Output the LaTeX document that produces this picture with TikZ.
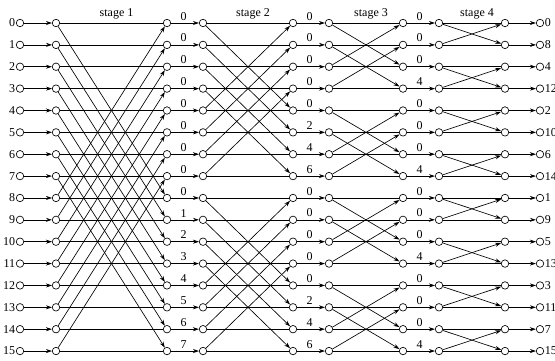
\documentclass[tikz,border=0pt]{standalone}
\usepackage{fontspec}
\setmainfont{Liberation Serif}
\usepackage{tikz}
\usetikzlibrary{arrows.meta, positioning, calc}

\begin{document}
\begin{tikzpicture}[x=1pt, y=-1pt, >={Stealth[length=6pt, width=4pt]},
    font=\fontsize{12}{14}\selectfont, line width=0.65pt,
    dot/.style={circle, draw, fill=white, inner sep=0pt, minimum size=7.5pt},
    tw/.style={above, inner sep=2.5pt}]
    \useasboundingbox (0, 0) rectangle (555, 360);

    % Các cột nút tròn của sơ đồ bướm
    \foreach \c/\x in {0/20, 1/56, 2/167, 3/203, 4/293, 5/329, 6/403, 7/439, 8/505, 9/540}
        \foreach \r in {0,...,15}
            \node[dot] (n\c-\r) at (\x, {23+21.87*\r}) {};

    % Nhãn đầu vào và đầu ra (thứ tự đảo bit)
    \foreach \r in {0,...,15}
        \node[left, inner sep=0.5pt] (in\r) at (n0-\r.west) {\r};
    \foreach \r/\b in {0/0, 1/8, 2/4, 3/12, 4/2, 5/10, 6/6, 7/14, 8/1, 9/9, 10/5, 11/13, 12/3, 13/11, 14/7, 15/15}
        \node[right, inner sep=0.5pt] (out\r) at (n9-\r.east) {\b};

    % Mũi tên nối giữa các tầng
    \foreach \a/\b in {0/1, 2/3, 4/5, 6/7, 8/9}
        \foreach \r in {0,...,15}
            \draw[->] (n\a-\r) -- (n\b-\r);

    % Các phép bướm của bốn tầng
    \foreach \a/\b/\d in {1/2/8, 3/4/4, 5/6/2, 7/8/1}
        \foreach \r in {0,...,15} {
            \pgfmathtruncatemacro\p{\r+\d*(1-2*mod(floor(\r/\d),2))}
            \draw (n\a-\r) -- (n\b-\r);
            \draw[->] (n\a-\r) -- (n\b-\p);
        }

    % Tên các tầng
    \foreach \a/\b/\s in {1/2/1, 3/4/2, 5/6/3, 7/8/4}
        \path (n\a-0) -- (n\b-0) node[midway, above, xshift=5pt] (st\s) {stage \s};

    % Hệ số xoay (twiddle) trên mỗi tầng
    \foreach \r/\k in {0/0, 1/0, 2/0, 3/0, 4/0, 5/0, 6/0, 7/0, 8/0, 9/1, 10/2, 11/3, 12/4, 13/5, 14/6, 15/7}
        \path (n2-\r) -- (n3-\r) node[tw, pos=0.45] (wa\r) {\k};
    \foreach \r/\k in {0/0, 1/0, 2/0, 3/0, 4/0, 5/2, 6/4, 7/6, 8/0, 9/0, 10/0, 11/0, 12/0, 13/2, 14/4, 15/6}
        \path (n4-\r) -- (n5-\r) node[tw, pos=0.45] (wb\r) {\k};
    \foreach \r/\k in {0/0, 1/0, 2/0, 3/4, 4/0, 5/0, 6/0, 7/4, 8/0, 9/0, 10/0, 11/4, 12/0, 13/0, 14/0, 15/4}
        \path (n6-\r) -- (n7-\r) node[tw, pos=0.45] (wc\r) {\k};

\end{tikzpicture}
\end{document}
